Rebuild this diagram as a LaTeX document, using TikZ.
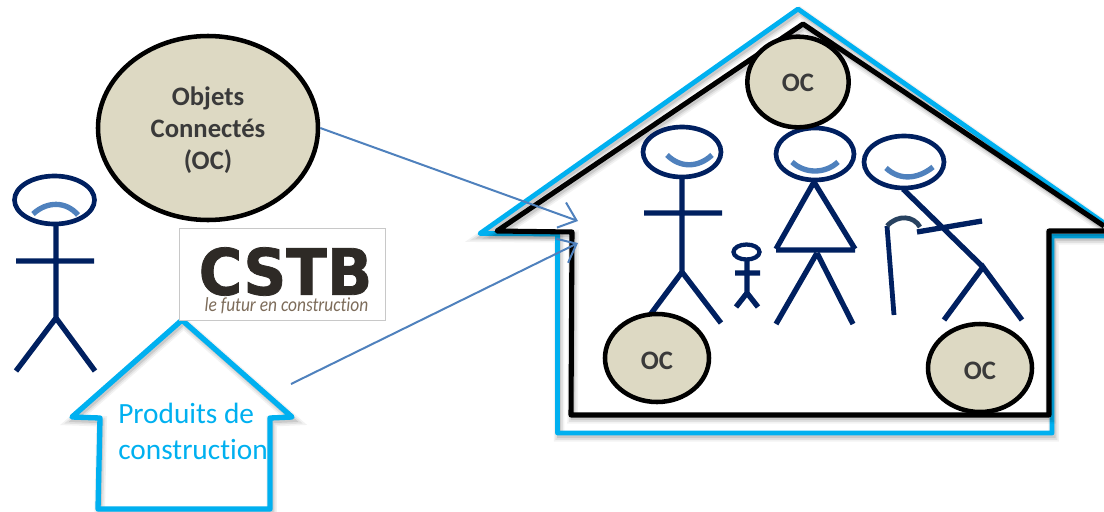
\documentclass[tikz,border=0pt]{standalone}
\usepackage{fontspec}
\setmainfont{Carlito}[Ligatures=NoCommon]
\newfontfamily\logofont{DejaVu Sans}[BoldFeatures={FakeBold=1.2}]
\usetikzlibrary{shapes.geometric,arrows.meta}
\definecolor{marine}{HTML}{002060}
\definecolor{sourire}{HTML}{4F81BD}
\definecolor{ciel}{HTML}{00B0F0}
\definecolor{sable}{HTML}{DDD9C3}
\definecolor{encre}{HTML}{3A3A3A}
\tikzset{
  ombre/.style={
    preaction={draw=black,draw opacity=.05,line width=8pt,transform canvas={xshift=1.2pt,yshift=-2.4pt}},
    preaction={draw=black,draw opacity=.07,line width=5.5pt,transform canvas={xshift=1.2pt,yshift=-2.4pt}},
    preaction={draw=black,draw opacity=.10,line width=3pt,transform canvas={xshift=1.2pt,yshift=-2.4pt}}},
  murciel/.style={ciel,line width=3.6pt,line join=round},
  murnoir/.style={black,line width=3.8pt,line join=round},
  baton/.style={marine,line width=4pt},
  bouche/.style={sourire,line width=4pt},
  tete/.style={marine,line width=3.5pt,fill=white},
  bulle/.style={ellipse,draw=black,fill=sable,line width=3.4pt,inner sep=0pt,text=encre,font=\fontsize{20}{24}\selectfont\bfseries,align=center},
  fleche/.style={sourire,line width=1.5pt,-{Straight Barb[length=12pt,width=20pt]}}
}
\begin{document}
\begin{tikzpicture}[x=0.75pt,y=0.75pt,yscale=-1]
\useasboundingbox (0,0) rectangle (1104,511);

%Grande maison
\draw [murciel,ombre] (1104,223) -- (798,9) -- (480,233.5) -- (557.5,234) -- (557.5,433) -- (1052,433) -- (1052,236) -- (1104,236) ;
\draw [murnoir,ombre] (1104,226) -- (803,24) -- (497,231) -- (572,232) -- (571,415) -- (1049,415) -- (1049,231) -- (1104,231) ;

%Petite maison
\draw [murciel,line width=4pt,ombre] (100,418) -- (72,417) -- (182,320) -- (292,417) -- (270,418) -- (270,509) -- (98,509) -- cycle ;

%Personnage de gauche
\draw [tete] (54.5,200) ellipse (40 and 24) ;
\draw [bouche] (33,214) .. controls (47,201) and (66,201) .. (78,215) ;
\draw [baton] (56,225) -- (56,318) (16,261) -- (94,261) (16,371) -- (56,318) -- (95,371) ;

%Homme
\draw [tete] (682,152) ellipse (39 and 25) ;
\draw [bouche] (667,155) .. controls (680,168) and (698,168) .. (712,155) ;
\draw [baton] (682,178) -- (682,272) (644,213) -- (722,213) (650,315) -- (682,272) -- (721,323) ;

%Enfant
\draw [tete,line width=3.2pt] (746.5,252) ellipse (13 and 7.5) ;
\draw [baton] (747,261) -- (747,293) (735,273) -- (760,273) (736,307) -- (747,293) -- (758,307) ;

%Femme
\draw [tete] (815,154) ellipse (39 and 26) ;
\draw [bouche] (792,162) .. controls (805,174) and (825,174) .. (838,162) ;
\draw [baton,line join=miter] (814,182) -- (855,249) (814,182) -- (776,249) (776,250) -- (855,250) ;
\draw [baton] (817,253) -- (776,324) (817,253) -- (853,324) ;

%Personne agee et sa canne
\draw [tete] (904,162) ellipse (40 and 26) ;
\draw [bouche] (886,168) .. controls (900,181) and (918,179) .. (933,167) ;
\draw [baton] (903,189) -- (983,267) (917,232) -- (982,221) (944,320) -- (983,267) -- (1022,320) ;
\draw [baton,line width=3.6pt] (894,315) -- (887,226) ;
\draw [color={rgb, 255:red, 40; green, 66; blue, 96 },line width=3.6pt] (887,226) .. controls (898,214) and (914,216) .. (920,227) ;

%Bulles
\node [bulle,minimum width=165pt,minimum height=138pt] (objets) at (208,128) {\raisebox{0pt}[\dimexpr\height+4.5pt\relax][\depth]{\begin{tabular}{@{}c@{}}Objets\\Connectés\\(OC)\end{tabular}}};
\node [bulle,minimum width=76pt,minimum height=68pt] (octoit) at (798,82) {\raisebox{0pt}[\dimexpr\height+1.5pt\relax][\depth]{OC}};
\node [bulle,minimum width=78pt,minimum height=66pt] (ocgauche) at (657,358) {\raisebox{0pt}[\dimexpr\height+4.5pt\relax][\depth]{OC}};
\node [bulle,minimum width=78pt,minimum height=66pt] (ocdroite) at (980,368) {\raisebox{0pt}[\dimexpr\height+4.5pt\relax][\depth]{OC}};

%Logo
\node [draw={rgb,255:red,200;green,200;blue,200},fill=white,line width=.6pt,minimum width=155pt,minimum height=69pt,inner sep=0pt] (cadre) at (282.5,274.5) {};
\node [inner sep=0pt,text={rgb,255:red,46;green,42;blue,38},font=\logofont\bfseries\fontsize{48}{48}\selectfont,xscale=.93] (cstb) at (285.5,271.5) {CSTB};
\node [inner sep=0pt,text={rgb,255:red,125;green,108;blue,90},font=\itshape\fontsize{15}{18}\selectfont,xscale=.87] (devise) at (286.5,306) {le futur en construction};

% Text Node
\node [inner sep=0pt,text=ciel,align=left,font=\fontsize{22}{27}\selectfont] (produits) at (193,431) {Produits de\\construction};

%Fleches
\coordinate (cible1) at (578,221);
\coordinate (depart2) at (291,384);
\coordinate (cible2) at (578,243);
\draw [fleche] (objets.east) -- (cible1) ;
\draw [fleche] (depart2) -- (cible2) ;

\end{tikzpicture}
\end{document}
